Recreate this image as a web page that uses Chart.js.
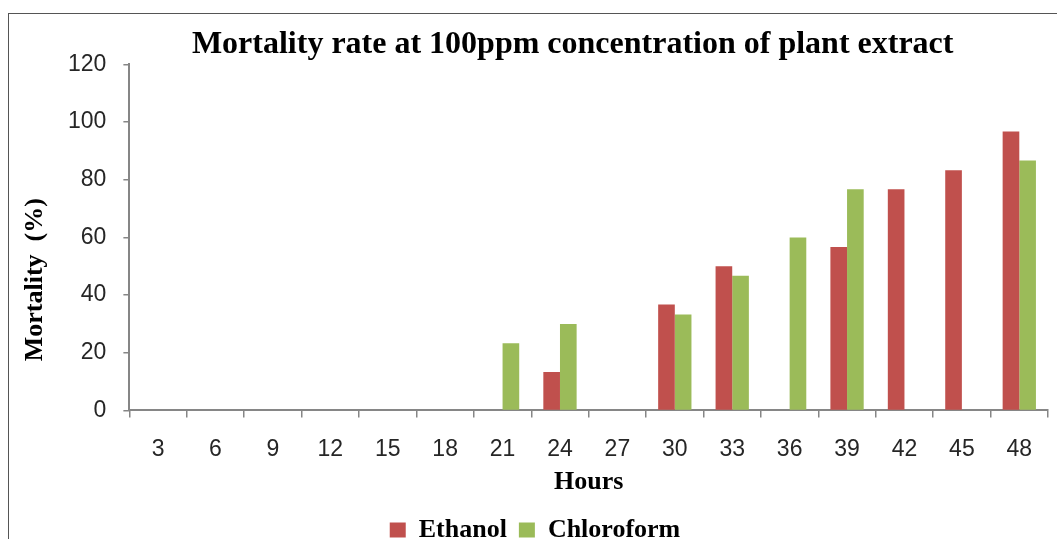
<!DOCTYPE html>
<html lang="en">
<head>
<meta charset="UTF-8">
<title>Mortality rate</title>
<script src="https://cdn.jsdelivr.net/npm/chart.js"></script>
<style>
    html, body { margin: 0; padding: 0; background: #fff; overflow: hidden; }
    .moldura {
        position: absolute; left: 8px; top: 13px; width: 1200px; height: 700px;
        border-left: 1px solid #555; border-top: 1px solid #555;
    }
    #grafico { position: absolute; left: 0; top: 0; }
</style>
</head>
<body>
<div class="moldura"></div>
<canvas id="grafico" width="1057" height="539"></canvas>

<script>
    // dados
    const horas = ['3', '6', '9', '12', '15', '18', '21', '24', '27', '30', '33', '36', '39', '42', '45', '48'];
    const etanol = [0, 0, 0, 0, 0, 0, 0, 13.3, 0, 36.7, 50, 0, 56.7, 76.7, 83.3, 96.7];
    const cloroformio = [0, 0, 0, 0, 0, 0, 23.3, 30, 0, 33.3, 46.7, 60, 76.7, 0, 0, 86.7];
    const ticksY = [0, 20, 40, 60, 80, 100, 120];

    const serif = '"Liberation Serif", "Times New Roman", serif';
    const sans = '"Liberation Sans", Arial, sans-serif';
    const cinza = '#868686';

    const config = {
        type: 'bar',
        data: {
            labels: horas,
            datasets: [
                { label: 'Ethanol', data: etanol, backgroundColor: '#C0504D' },
                { label: 'Chloroform', data: cloroformio, backgroundColor: '#9BBB59' }
            ]
        },
        options: {
            responsive: false,
            animation: false,
            layout: { padding: { left: 22, right: 9, top: 14, bottom: -14 } },
            datasets: { bar: { barPercentage: 1, categoryPercentage: 0.58 } },
            plugins: {
                title: {
                    display: true,
                    fullSize: false,
                    text: 'Mortality rate at 100ppm concentration of plant extract    ',
                    color: '#000',
                    font: { family: serif, size: 32, weight: 'bold' },
                    padding: { top: 12, bottom: 0 }
                },
                legend: {
                    position: 'bottom',
                    labels: {
                        color: '#000',
                        font: { family: serif, size: 26, weight: 'bold' },
                        boxWidth: 16, boxHeight: 15, padding: 12
                    }
                },
                tooltip: { enabled: false }
            },
            scales: {
                x: {
                    grid: { drawOnChartArea: false, color: cinza, tickLength: 7, lineWidth: 1.5 },
                    border: { color: cinza, width: 2 },
                    ticks: { color: '#262626', font: { family: sans, size: 23 }, padding: 18 },
                    title: {
                        display: true, text: 'Hours', color: '#000',
                        font: { family: serif, size: 26, weight: 'bold', lineHeight: 1 },
                        padding: { top: -12, bottom: 10 }
                    }
                },
                y: {
                    min: 0, max: 120,
                    afterBuildTicks: function (eixo) { eixo.ticks = ticksY.map(v => ({ value: v })); },
                    grid: { drawOnChartArea: false, color: cinza, tickLength: 6, lineWidth: 1.5 },
                    border: { color: cinza, width: 2 },
                    ticks: { color: '#262626', font: { family: sans, size: 23 }, padding: 17 },
                    title: {
                        display: true,
                        // espacos no fim empurram o texto para baixo, como no original
                        text: 'Mortality  (%)             ',
                        color: '#000',
                        font: { family: serif, size: 26, weight: 'bold', lineHeight: 1 },
                        padding: { top: 0, bottom: 3 }
                    }
                }
            }
        }
    };

    new Chart(document.getElementById('grafico'), config);
</script>
</body>
</html>
